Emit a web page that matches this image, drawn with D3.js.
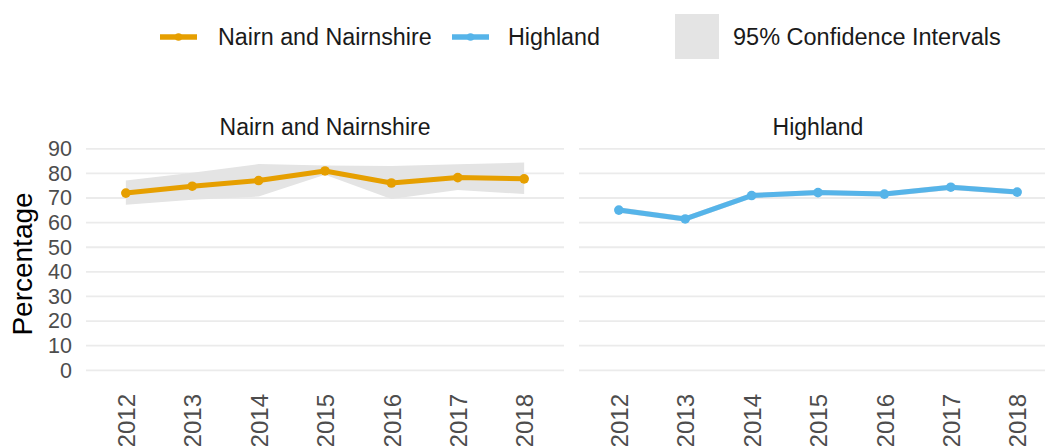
<!DOCTYPE html>
<html>
<head>
<meta charset="utf-8">
<script src="https://cdn.jsdelivr.net/npm/d3@7"></script>
<style>
  html, body { margin: 0; padding: 0; background: #fff; }
  svg { display: block; font-family: "Liberation Sans", Arial, sans-serif; }
</style>
</head>
<body>
<svg id="chart" width="1045" height="446"></svg>
<script>
// ---- data ----
const years = ["2012", "2013", "2014", "2015", "2016", "2017", "2018"];
const yTicks = [0, 10, 20, 30, 40, 50, 60, 70, 80, 90];
const panelNames = ["Nairn and Nairnshire", "Highland"];
const nairnValues = [72.0, 74.8, 77.1, 81.0, 76.1, 78.3, 77.8];
const nairnLower  = [67.3, 69.3, 70.6, 79.5, 69.6, 73.3, 71.6];
const nairnUpper  = [77.1, 80.3, 83.8, 83.2, 83.0, 83.7, 84.4];
const highlandValues = [65.1, 61.5, 71.0, 72.2, 71.6, 74.4, 72.4];
const highlandLower  = [64.0, 60.4, 69.9, 71.1, 70.5, 73.3, 71.3];
const highlandUpper  = [66.2, 62.6, 72.1, 73.3, 72.7, 75.5, 73.5];
const legendLabels = ["Nairn and Nairnshire", "Highland", "95% Confidence Intervals"];

const colors = { nairn: "#E69F00", highland: "#56B4E9", ci: "#e4e4e4", grid: "#ebebeb" };

const panels = [
  { name: panelNames[0], values: nairnValues, lower: nairnLower, upper: nairnUpper, color: colors.nairn, x0: 86, x1: 564 },
  { name: panelNames[1], values: highlandValues, lower: highlandLower, upper: highlandUpper, color: colors.highland, x0: 579, x1: 1057 }
];

const svg = d3.select("#chart");
const y = d3.scaleLinear().domain([0, 90]).range([370.3, 148.8]);

panels.forEach((p, pi) => {
  const x = d3.scalePoint().domain(years).range([p.x0, p.x1]).padding(0.6);
  const g = svg.append("g");

  // gridlines
  g.selectAll("line.grid").data(yTicks).join("line")
    .attr("x1", p.x0).attr("x2", p.x1)
    .attr("y1", d => y(d)).attr("y2", d => y(d))
    .attr("stroke", colors.grid).attr("stroke-width", 1.8);

  const rows = years.map((yr, i) => ({ yr, v: p.values[i], lo: p.lower[i], hi: p.upper[i] }));

  // ribbon
  g.append("path").datum(rows)
    .attr("fill", colors.ci)
    .attr("d", d3.area().x(d => x(d.yr)).y0(d => y(d.lo)).y1(d => y(d.hi)));

  // line
  g.append("path").datum(rows)
    .attr("fill", "none").attr("stroke", p.color).attr("stroke-width", 5)
    .attr("stroke-linejoin", "round")
    .attr("d", d3.line().x(d => x(d.yr)).y(d => y(d.v)));

  g.selectAll("circle").data(rows).join("circle")
    .attr("cx", d => x(d.yr)).attr("cy", d => y(d.v)).attr("r", 4.8)
    .attr("fill", p.color);

  // strip title
  g.append("text").attr("x", (p.x0 + p.x1) / 2).attr("y", 127)
    .attr("text-anchor", "middle").attr("dominant-baseline", "central")
    .attr("font-size", 23).attr("fill", "#1a1a1a").text(p.name);

  // x axis labels
  const xa = g.append("g").attr("transform", "translate(0,394)")
    .call(d3.axisBottom(x).tickSize(0).tickPadding(0));
  xa.select(".domain").remove();
  xa.selectAll("text")
    .attr("transform", "rotate(-90)")
    .attr("x", 0).attr("y", 0).attr("dy", "0.36em")
    .attr("text-anchor", "end")
    .attr("font-size", 24).attr("fill", "#4d4d4d")
    .attr("font-family", "Liberation Sans, Arial, sans-serif");

  if (pi === 0) {
    const ya = svg.append("g").attr("transform", "translate(72,0)")
      .call(d3.axisLeft(y).tickValues(yTicks).tickSize(0).tickPadding(0));
    ya.select(".domain").remove();
    ya.selectAll("text").attr("font-size", 21.5).attr("fill", "#4d4d4d")
      .attr("font-family", "Liberation Sans, Arial, sans-serif");
  }
});

// y axis title
svg.append("text")
  .attr("transform", "translate(32,264) rotate(-90)")
  .attr("text-anchor", "middle")
  .attr("font-size", 28).attr("fill", "#000")
  .text("Percentage");

// legend
const leg = svg.append("g");
const keys = [
  { x: 160, color: colors.nairn, label: legendLabels[0], tx: 218 },
  { x: 452, color: colors.highland, label: legendLabels[1], tx: 508 }
];
keys.forEach(k => {
  leg.append("line").attr("x1", k.x).attr("x2", k.x + 37).attr("y1", 37).attr("y2", 37)
    .attr("stroke", k.color).attr("stroke-width", 5.5);
  leg.append("circle").attr("cx", k.x + 18.5).attr("cy", 37).attr("r", 3.8).attr("fill", k.color);
  leg.append("text").attr("x", k.tx).attr("y", 37).attr("dominant-baseline", "central")
    .attr("font-size", 23.3).attr("fill", "#1a1a1a").text(k.label);
});
leg.append("rect").attr("x", 675).attr("y", 14).attr("width", 44).attr("height", 45).attr("fill", colors.ci);
leg.append("text").attr("x", 733).attr("y", 37).attr("dominant-baseline", "central")
  .attr("font-size", 23.5).attr("fill", "#1a1a1a").text(legendLabels[2]);
</script>
</body>
</html>
